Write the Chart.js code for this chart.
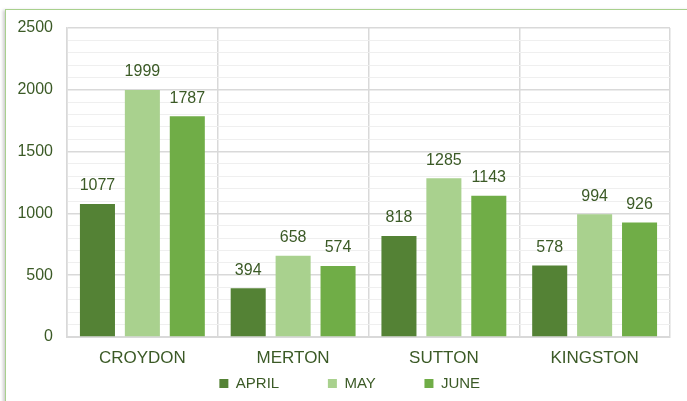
<!DOCTYPE html>
<html>
<head>
<meta charset="utf-8">
<script src="https://cdn.jsdelivr.net/npm/chart.js@4"></script>
<style>
  html, body { margin: 0; padding: 0; background: #fff; overflow: hidden; }
  #wrap { position: relative; width: 687px; height: 401px; }
  #card {
    position: absolute; left: 5px; top: 9px; width: 720px; height: 420px;
    border: 1.5px solid #a8d08d; box-shadow: -2px 1px 3px rgba(0,0,0,0.2);
    background: #fff;
  }
  #chart { position: absolute; left: 0; top: 0; }
</style>
</head>
<body>
<div id="wrap">
  <div id="card"></div>
  <canvas id="chart" width="687" height="401"></canvas>
</div>
<script>
const boroughs = ['CROYDON', 'MERTON', 'SUTTON', 'KINGSTON'];
const months = ['APRIL', 'MAY', 'JUNE'];
const aprilValues = [1077, 394, 818, 578];
const mayValues = [1999, 658, 1285, 994];
const juneValues = [1787, 574, 1143, 926];

const textColor = '#3b5a26';
const monthColors = ['#548235', '#a9d18e', '#70ad47'];
const fontFamily = '"Liberation Sans", Arial, sans-serif';

// Value labels above each bar
const barLabels = {
  id: 'barLabels',
  afterDatasetsDraw(chart) {
    const ctx = chart.ctx;
    ctx.save();
    ctx.font = '16px ' + fontFamily;
    ctx.fillStyle = textColor;
    ctx.textAlign = 'center';
    ctx.textBaseline = 'middle';
    chart.data.datasets.forEach((ds, i) => {
      chart.getDatasetMeta(i).data.forEach((bar, j) => {
        ctx.fillText(ds.data[j], bar.x, bar.y - 18);
      });
    });
    ctx.restore();
  }
};

const ctx = document.getElementById('chart').getContext('2d');
new Chart(ctx, {
  type: 'bar',
  data: {
    labels: boroughs,
    datasets: [aprilValues, mayValues, juneValues].map((vals, i) => ({
      label: months[i],
      data: vals,
      backgroundColor: monthColors[i],
      categoryPercentage: 0.894,
      barPercentage: 0.78
    }))
  },
  options: {
    responsive: false,
    animation: false,
    layout: { padding: { left: 17, right: 17, top: 28, bottom: 0 } },
    plugins: {
      tooltip: { enabled: false },
      legend: {
        position: 'bottom',
        fullSize: false,
        labels: {
          boxWidth: 9,
          boxHeight: 9,
          padding: 7,
          color: textColor,
          font: { family: fontFamily, size: 15 },
          generateLabels(chart) {
            const items = Chart.defaults.plugins.legend.labels.generateLabels(chart);
            items.forEach((it, i) => {
              it.lineWidth = 0;
              it.text = it.text + '\u00a0'.repeat(i < items.length - 1 ? 10 : 9);
            });
            return items;
          }
        }
      }
    },
    scales: {
      x: {
        afterFit(scale) { scale.height = 32; },
        grid: { color: '#d9d9d9', lineWidth: 1.5, drawTicks: false },
        border: { color: '#d9d9d9', width: 2 },
        ticks: {
          color: textColor,
          padding: 11,
          font: { family: fontFamily, size: 17 }
        }
      },
      y: {
        min: 0,
        max: 2500,
        afterFit(scale) { scale.width = 50; },
        grid: {
          drawTicks: false,
          color: c => (c.tick && c.tick.value % 500 === 0) ? '#d9d9d9' : '#efefef',
          lineWidth: c => (c.tick && c.tick.value % 500 === 0) ? 1.5 : 1
        },
        border: { color: '#d9d9d9', width: 1.5 },
        ticks: {
          stepSize: 100,
          autoSkip: false,
          padding: 14,
          color: textColor,
          font: { family: fontFamily, size: 16 },
          callback: v => (v % 500 === 0 ? v : '')
        }
      }
    }
  },
  plugins: [barLabels]
});
</script>
</body>
</html>
